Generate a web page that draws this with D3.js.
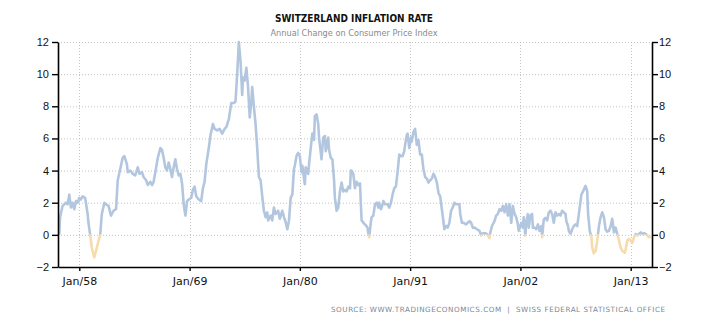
<!DOCTYPE html>
<html>
<head>
<meta charset="utf-8">
<script src="https://cdn.jsdelivr.net/npm/d3@7"></script>
<style>
  body { margin: 0; background: #fff; }
  svg { display: block; }
</style>
</head>
<body>
<div id="chart"></div>
<script>
// months counted from Jan 1956
var monthOffsets = [0, 1, 4, 8, 10, 12, 14, 16, 18, 20, 22, 24, 26, 28, 31, 34, 35, 37, 39, 42, 44, 47, 49, 51, 54, 56, 59, 62, 65, 68,
  70, 73, 76, 78, 81, 82, 85, 88, 91, 94, 96, 99, 101, 104, 106, 109, 111, 113, 115, 118, 121, 123, 125, 127, 129, 131, 133, 135, 137, 139,
  141, 143, 145, 147, 149, 151, 153, 155, 158, 160, 162, 164, 167, 170, 172, 174, 176, 179, 181, 184, 186, 189, 192, 195, 198, 200, 203, 206, 209, 211,
  213, 215, 217, 219, 220, 222, 224, 226, 228, 230, 231, 233, 235, 237, 239, 241, 243, 245, 247, 249, 250, 253, 255, 257, 259, 262, 264, 267, 269, 271,
  273, 275, 277, 279, 281, 282, 284, 286, 288, 290, 291, 294, 295, 298, 299, 302, 303, 305, 306, 308, 310, 311, 314, 316, 318, 319, 322, 323, 325, 327,
  329, 330, 332, 334, 336, 338, 340, 342, 344, 346, 348, 349, 350, 352, 354, 356, 358, 360, 361, 362, 365, 367, 369, 370, 371, 373, 374, 376, 378, 380,
  382, 383, 385, 386, 388, 390, 393, 395, 397, 399, 401, 403, 405, 407, 409, 411, 413, 414, 416, 417, 419, 421, 422, 424, 426, 428, 430, 432, 434, 435,
  436, 438, 440, 442, 444, 446, 448, 450, 452, 454, 456, 458, 460, 461, 463, 465, 467, 469, 471, 473, 475, 477, 479, 480, 482, 484, 487, 489, 491, 493,
  495, 497, 500, 503, 505, 507, 510, 512, 515, 516, 518, 521, 523, 525, 527, 529, 531, 533, 535, 537, 539, 541, 543, 545, 547, 549, 550, 553, 555, 556,
  558, 559, 561, 562, 564, 566, 567, 569, 571, 573, 575, 577, 578, 580, 582, 584, 586, 588, 590, 592, 594, 596, 598, 600, 602, 604, 606, 607, 609, 610,
  612, 614, 616, 618, 620, 622, 624, 625, 627, 629, 630, 632, 633, 635, 637, 638, 640, 642, 644, 646, 648, 650, 652, 654, 656, 658, 660, 662, 664, 666,
  668, 670, 672, 674, 677, 678, 680, 682, 684, 686, 688, 690, 692, 694, 696, 698, 700, 702, 704, 706, 708];

var rates = [0.0, 1.1, 1.8, 2.0, 1.9, 2.5, 1.7, 2.0, 1.6, 2.1, 2.0, 2.3, 2.2, 2.4, 2.3, 1.3, 0.75, 0.0, -0.8, -1.4, -1.0, -0.4, 0.0, 1.3, 2.0, 1.9, 1.8, 1.2, 1.5, 1.6,
  3.4, 4.1, 4.8, 4.9, 4.4, 3.9, 4.0, 3.8, 3.7, 4.2, 3.8, 3.9, 3.6, 3.4, 3.1, 3.3, 3.1, 3.3, 3.9, 4.8, 5.4, 5.3, 4.8, 4.2, 4.0, 4.5, 4.1, 3.6, 4.2, 4.7,
  4.1, 3.7, 3.8, 3.2, 1.9, 1.2, 2.1, 2.2, 2.3, 2.8, 3.0, 2.4, 2.2, 2.1, 2.9, 3.3, 4.4, 5.4, 6.2, 6.9, 6.6, 6.5, 6.6, 6.3, 6.6, 6.7, 7.2, 8.2, 8.2, 8.3,
  10.0, 12.0, 10.8, 8.7, 9.8, 9.6, 10.4, 9.2, 7.3, 8.3, 9.2, 8.0, 6.9, 5.4, 3.6, 3.4, 2.4, 1.5, 1.1, 1.4, 0.9, 1.2, 0.9, 1.7, 1.3, 1.5, 1.0, 1.5, 1.1, 0.8,
  0.35, 0.9, 2.3, 2.5, 4.1, 4.3, 4.9, 5.1, 4.9, 3.9, 4.3, 3.15, 4.2, 3.8, 4.4, 5.85, 6.3, 5.9, 7.4, 7.5, 6.9, 6.05, 4.7, 6.05, 6.15, 5.2, 6.05, 5.3, 4.8, 4.7,
  3.4, 2.3, 1.5, 1.7, 2.7, 3.25, 2.7, 2.8, 2.7, 3.0, 2.9, 4.0, 4.0, 3.8, 2.9, 3.3, 3.1, 3.2, 1.9, 0.9, 0.7, 0.6, 0.45, 0.05, -0.15, 0.8, 1.1, 1.2, 1.9, 2.0,
  1.7, 2.0, 1.6, 1.7, 2.1, 1.9, 1.9, 1.7, 2.0, 2.5, 2.9, 3.0, 3.9, 5.0, 4.9, 4.9, 5.2, 5.6, 6.2, 6.3, 5.4, 6.05, 5.8, 6.4, 6.6, 5.6, 5.9, 5.0, 5.0, 4.5,
  4.1, 3.6, 3.5, 3.25, 3.4, 3.5, 3.8, 3.6, 3.25, 2.6, 2.4, 1.6, 0.8, 0.35, 0.55, 0.45, 0.75, 1.5, 1.7, 2.0, 1.9, 1.9, 1.9, 1.3, 0.75, 0.75, 0.65, 0.75, 0.85, 0.75,
  0.45, 0.45, 0.35, 0.25, -0.05, 0.1, 0.1, 0.05, -0.2, 0.15, 0.55, 0.85, 1.2, 1.3, 1.6, 1.5, 1.8, 1.4, 1.9, 1.2, 1.9, 0.75, 1.8, 1.3, 1.1, 0.65, 0.25, 0.75, 0.45, 1.1,
  -0.05, 0.75, 1.3, 0.45, 1.2, 1.3, 0.45, 0.45, 0.35, 0.65, 0.25, 0.55, -0.15, 0.95, 1.05, 0.9, 1.4, 1.5, 1.3, 0.75, 1.4, 1.2, 1.3, 1.2, 1.5, 1.4, 1.3, 0.85, 0.55, 0.25,
  0.05, 0.35, 0.55, 0.65, 0.55, 1.3, 2.1, 2.5, 2.7, 2.95, 3.05, 2.7, 1.3, 0.25, -0.15, -0.8, -1.15, -1.0, -0.35, 0.55, 1.1, 1.4, 1.1, 0.35, 0.2, 0.25, 0.55, 1.0, 0.15, 0.45,
  0.05, -0.35, -0.8, -1.0, -1.1, -0.9, -0.35, -0.25, -0.35, -0.5, -0.15, 0.05, -0.05, 0.05, 0.15, 0.05, 0.1, 0.05, -0.05, -0.15, -0.1];

var tickYears = [1958, 1969, 1980, 1991, 2002, 2013];
var yTicks = [-2, 0, 2, 4, 6, 8, 10, 12];

var chartTitle = "SWITZERLAND INFLATION RATE",
    chartSubtitle = "Annual Change on Consumer Price Index",
    sourceText = "SOURCE: WWW.TRADINGECONOMICS.COM  |  SWISS FEDERAL STATISTICAL OFFICE";

(function() {
    var width = 710,
        height = 325,
        left = 58,
        right = 652,
        top = 42,
        bottom = 267;

    var svg = d3.select("#chart")
        .append("svg")
        .attr("width", width)
        .attr("height", height);

    var startDate = new Date(1956, 0, 1);
    var data = monthOffsets.map(function(m, i) {
        return { date: d3.timeMonth.offset(startDate, m), value: rates[i] };
    });

    // Jan/58 and Jan/13 fall at these pixels; stretch domain to the axis ends
    var x = d3.scaleTime()
        .domain([new Date(1958, 0, 1), new Date(2013, 0, 1)])
        .range([79.3, 630.7]);
    x.domain([x.invert(left), x.invert(right)]).range([left, right]);

    var y = d3.scaleLinear()
        .domain([-2, 12])
        .range([bottom, top]);

    var tickDates = tickYears.map(function(yr) { return new Date(yr, 0, 1); });

    // grid
    var grid = svg.append("g").attr("class", "grid");
    grid.selectAll(".hgrid")
        .data(yTicks.filter(function(t) { return t > -2; }))
        .enter().append("line")
        .attr("x1", left)
        .attr("x2", right)
        .attr("y1", function(d) { return y(d) + 0.5; })
        .attr("y2", function(d) { return y(d) + 0.5; })
        .attr("stroke", "#c4c4c4")
        .attr("stroke-dasharray", "1,2");

    grid.selectAll(".vgrid")
        .data(tickDates)
        .enter().append("line")
        .attr("x1", function(d) { return Math.round(x(d)) + 0.5; })
        .attr("x2", function(d) { return Math.round(x(d)) + 0.5; })
        .attr("y1", top)
        .attr("y2", bottom)
        .attr("stroke", "#c4c4c4")
        .attr("stroke-dasharray", "1,2");

    // clip the line into above / below zero
    var defs = svg.append("defs");
    defs.append("clipPath").attr("id", "above")
        .append("rect")
        .attr("x", 0).attr("y", 0)
        .attr("width", width).attr("height", y(0));
    defs.append("clipPath").attr("id", "below")
        .append("rect")
        .attr("x", 0).attr("y", y(0))
        .attr("width", width).attr("height", height - y(0));

    var line = d3.line()
        .x(function(d) { return x(d.date); })
        .y(function(d) { return y(d.value); });

    svg.append("path")
        .datum(data)
        .attr("d", line)
        .attr("fill", "none")
        .attr("stroke", "#b3c6df")
        .attr("stroke-width", 2.6)
        .attr("stroke-linejoin", "round")
        .attr("clip-path", "url(#above)");

    svg.append("path")
        .datum(data)
        .attr("d", line)
        .attr("fill", "none")
        .attr("stroke", "#f6dbab")
        .attr("stroke-width", 2.6)
        .attr("stroke-linejoin", "round")
        .attr("clip-path", "url(#below)");

    // axes
    var leftAxis = svg.append("g")
        .attr("transform", "translate(" + left + ",0)")
        .call(d3.axisLeft(y).tickValues(yTicks).tickSize(6).tickPadding(3).tickSizeOuter(0));

    var rightAxis = svg.append("g")
        .attr("transform", "translate(" + right + ",0)")
        .call(d3.axisRight(y).tickValues(yTicks).tickSize(6).tickPadding(1).tickSizeOuter(0));

    var bottomAxis = svg.append("g")
        .attr("transform", "translate(0," + bottom + ")")
        .call(d3.axisBottom(x).tickValues(tickDates).tickSize(4).tickPadding(6).tickSizeOuter(0)
            .tickFormat(function(d) { return "Jan/" + d3.timeFormat("%y")(d); }));

    [leftAxis, rightAxis, bottomAxis].forEach(function(g) {
        g.select(".domain").attr("stroke", "#000").attr("stroke-width", 1.6);
        g.selectAll(".tick line").attr("stroke", "#000").attr("stroke-width", 1.4);
    });

    leftAxis.selectAll("text").attr("font-family", "Liberation Sans, Arial, sans-serif").attr("font-size", 11).attr("fill", "#111");
    rightAxis.selectAll("text").attr("font-family", "Liberation Sans, Arial, sans-serif").attr("font-size", 11).attr("fill", "#111");
    bottomAxis.selectAll("text").attr("font-family", "DejaVu Sans, sans-serif").attr("font-size", 11).attr("fill", "#111");

    // titles
    svg.append("text")
        .attr("x", 354)
        .attr("y", 22)
        .attr("text-anchor", "middle")
        .attr("font-family", "DejaVu Sans Condensed, DejaVu Sans, sans-serif")
        .attr("font-weight", "bold")
        .attr("font-size", 11)
        .attr("textLength", 158)
        .attr("lengthAdjust", "spacingAndGlyphs")
        .attr("fill", "#111")
        .text(chartTitle);

    svg.append("text")
        .attr("x", 354)
        .attr("y", 36)
        .attr("text-anchor", "middle")
        .attr("font-family", "DejaVu Sans Condensed, DejaVu Sans, sans-serif")
        .attr("font-size", 9)
        .attr("textLength", 167)
        .attr("lengthAdjust", "spacingAndGlyphs")
        .attr("fill", "#8a8a8a")
        .text(chartSubtitle);

    svg.append("text")
        .attr("x", 665)
        .attr("y", 312)
        .attr("text-anchor", "end")
        .attr("font-family", "DejaVu Sans, sans-serif")
        .attr("font-size", 7.2)
        .attr("textLength", 334)
        .attr("lengthAdjust", "spacing")
        .attr("fill", "#7d8796")
        .attr("xml:space", "preserve")
        .style("white-space", "pre")
        .text(sourceText);
})();
</script>
</body>
</html>
